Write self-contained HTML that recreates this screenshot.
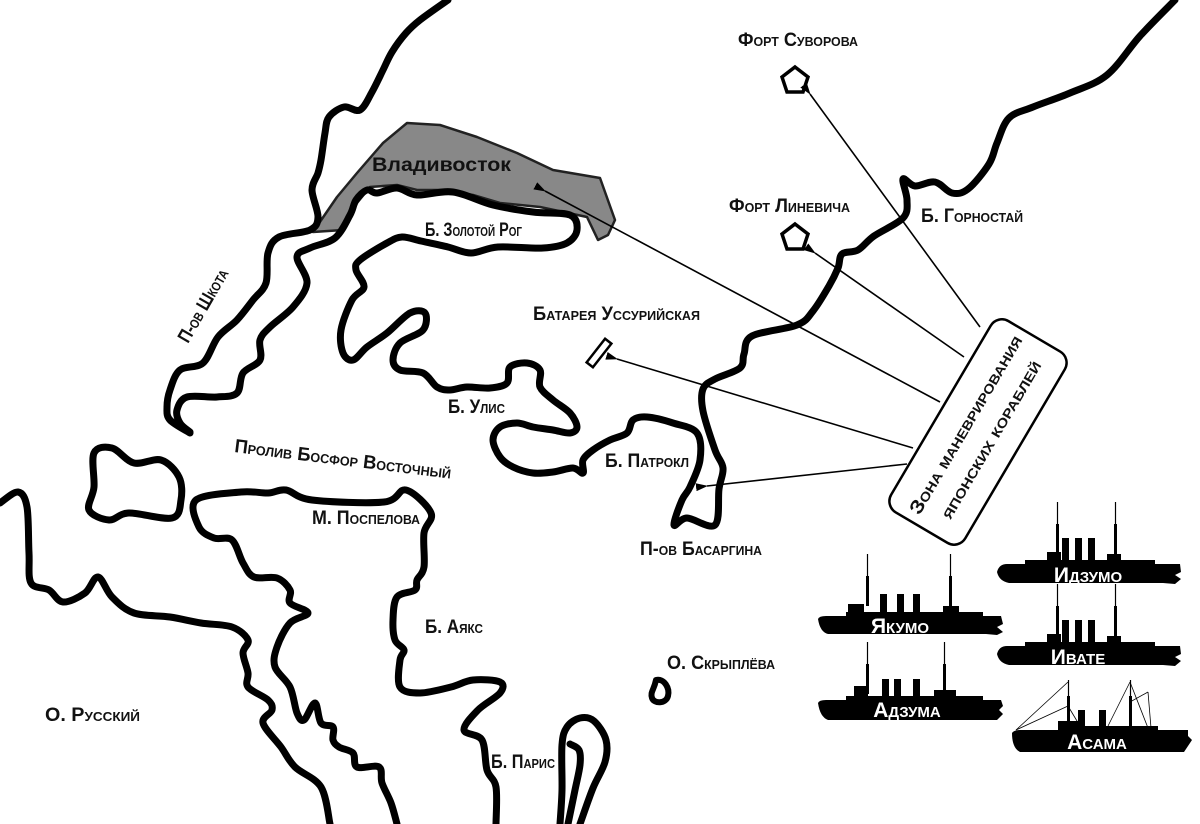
<!DOCTYPE html>
<html><head><meta charset="utf-8"><style>
html,body{margin:0;padding:0;background:#fff;}
svg{display:block;}
.t{font-family:"Liberation Sans","Noto Sans CJK SC",sans-serif;font-variant:small-caps;font-weight:bold;fill:#111;font-size:19px;}
.c{fill:none;stroke:#000;stroke-width:7;stroke-linejoin:round;stroke-linecap:round;}
.a{stroke:#000;stroke-width:1.6;fill:none;}
.sw{font-family:"Liberation Sans",sans-serif;font-variant:small-caps;font-weight:bold;fill:#fff;font-size:21px;}
</style></head><body>
<svg width="1200" height="824" viewBox="0 0 1200 824" xmlns="http://www.w3.org/2000/svg">
<defs>
<marker id="ah" markerWidth="12" markerHeight="8" refX="1" refY="4" orient="auto" markerUnits="userSpaceOnUse">
<path d="M12,0 L0,4 L12,8 Z" fill="#000"/>
</marker>
</defs>

<path d="M313,232 L337,197 L357,173 L383,143 L407,123 L440,125 L477,137 L517,153 L553,170 L600,178 L615,220 L608,235 L598,240 L587,217 L540,207 L500,203 L473,195 L443,190 L417,190 L397,185 L370,187 L357,203 L343,230 Z" fill="#888" stroke="#222" stroke-width="2.5" stroke-linejoin="round"/>

<path class="c" d="M448,0 L420,20 L406,33 L392,52 L383,70 L372,92 L360,110 L344,107 L329,117 L325,133 L321,160 L318,173 L312,190 L318,217 L310,230 L279,237 L268,253 L266,283 L253,300 L237,320 L218,337 L203,363 L180,370 L170,390 L167,407 L170,420 L190,433"/>

<path class="c" d="M190,432 L180,423 L177,410 L187,397 L217,397 L237,393 L243,373 L260,360 L260,340 L270,327 L293,307 L307,283 L297,257 L310,248 L335,238 L350,215 L356,200 L367,190 L377,193 L397,188 L417,195 L453,192 L493,205 L533,212 L570,215 L577,230 L567,243 L543,248 L498,247 L471,253 L448,247 L421,241 L402,237 L387,243 L360,260 L356,270 L364,287 L352,300 L341,330 L343,353 L353,360 L367,347 L387,333 L410,313 L425,313 L423,330 L400,343 L393,360 L400,370 L423,373 L437,387 L450,390 L467,387 L490,388 L507,383 L510,367 L527,363 L540,370 L540,387 L553,400 L570,413 L577,427 L570,433 L553,430 L533,427 L517,423 L500,427 L493,440 L500,457 L513,467 L533,473 L553,472 L573,468 L583,473 L583,460 L593,450 L610,440 L627,433 L633,420 L647,417 L673,423 L697,433 L700,460 L690,487 L682,500 L674,525 L687,518 L715,525 L719,489 L723,468 L715,450 L703,411 L703,389 L715,379 L740,368 L744,354 L752,336 L797,325 L813,311 L829,286 L838,268 L842,254 L858,250 L874,236 L903,218 L907,200 L903,179 L915,186 L935,182 L952,193 L968,189 L989,164 L997,143 L1009,118 L1033,107 L1070,93 L1107,75 L1140,36 L1175,0"/>

<path class="c" d="M94,453 L112,448 L134,463 L161,460 L179,477 L181,500 L172,518 L129,513 L109,520 L89,510 L94,487 Z"/>

<path class="c" d="M0,503 L18,492 L27,507 L29,553 L31,583 L49,590 L63,602 L85,593 L98,577 L112,597 L134,613 L170,617 L201,623 L232,627 L248,640 L243,653 L248,673 L248,687 L268,700 L272,710 L263,723 L281,747 L295,767 L321,787 L330,824"/>

<path class="c" d="M397,824 L391,803 L382,783 L379,767 L357,767 L353,753 L339,747 L333,740 L333,727 L321,723 L315,703 L304,720 L297,713 L290,687 L275,667 L277,647 L290,623 L308,613 L290,603 L290,590 L277,578 L254,577 L243,563 L232,540 L214,538 L199,527 L196,500 L241,492 L268,493 L286,490 L312,500 L384,502 L406,490 L431,513 L424,533 L424,567 L417,580 L415,590 L397,597 L393,620 L395,640 L404,650 L400,660 L400,687 L420,693 L451,687 L473,680 L500,682 L500,693 L478,710 L464,730 L482,740 L487,770 L496,787 L496,824"/>

<path class="c" d="M560,824 L562,790 L562,745 L567,727 L580,718 L594,721 L606,740 L605,762 L593,788 L580,824"/>
<path class="c" d="M568,824 L575,790 L580,765 L579,750 L570,744"/>

<path d="M656,680 C664,678 670,688 668,696 C666,704 654,704 652,698 C650,692 654,690 656,680 Z" fill="none" stroke="#000" stroke-width="6" stroke-linejoin="round"/>

<polygon points="795,67 808,77 803,92 787,92 782,77" fill="#fff" stroke="#000" stroke-width="3.5"/>
<polygon points="795,224 808,234 803,249 787,249 782,234" fill="#fff" stroke="#000" stroke-width="3.5"/>
<rect x="584" y="349" width="30" height="8" fill="#fff" stroke="#000" stroke-width="2.5" transform="rotate(-52 599 353)"/>

<line class="a" x1="980" y1="327" x2="810" y2="94" marker-end="url(#ah)"/>
<line class="a" x1="964" y1="357" x2="815" y2="253" marker-end="url(#ah)"/>
<line class="a" x1="940" y1="402" x2="545" y2="191" marker-end="url(#ah)"/>
<line class="a" x1="913" y1="448" x2="617" y2="359" marker-end="url(#ah)"/>
<line class="a" x1="907" y1="464" x2="707" y2="486" marker-end="url(#ah)"/>

<g transform="translate(978,432) rotate(-59.5)">
<rect x="-111" y="-43" width="222" height="86" rx="13" fill="#fff" stroke="#000" stroke-width="2.5"/>
<text class="t" x="0" y="-8" text-anchor="middle" font-size="26" textLength="204" lengthAdjust="spacingAndGlyphs">Зона маневрирования</text>
<text class="t" x="0" y="21" text-anchor="middle" font-size="26" textLength="180" lengthAdjust="spacingAndGlyphs">японских кораблей</text>
</g>

<text class="t" x="372" y="171" font-size="24" fill="#222" style="font-variant:normal" textLength="139" lengthAdjust="spacingAndGlyphs">Владивосток</text>
<text class="t" x="425" y="236" textLength="97" lengthAdjust="spacingAndGlyphs">Б. Золотой Рог</text>
<text class="t" x="738" y="46" textLength="120" lengthAdjust="spacingAndGlyphs">Форт Суворова</text>
<text class="t" x="729" y="212" textLength="121" lengthAdjust="spacingAndGlyphs">Форт Линевича</text>
<text class="t" x="921" y="222" textLength="102" lengthAdjust="spacingAndGlyphs">Б. Горностай</text>
<text class="t" x="533" y="320" textLength="167" lengthAdjust="spacingAndGlyphs">Батарея Уссурийская</text>
<text class="t" x="448" y="413" textLength="57" lengthAdjust="spacingAndGlyphs">Б. Улис</text>
<text class="t" x="605" y="467" textLength="84" lengthAdjust="spacingAndGlyphs">Б. Патрокл</text>
<text class="t" x="640" y="555" textLength="122" lengthAdjust="spacingAndGlyphs">П-ов Басаргина</text>
<text class="t" x="312" y="524" textLength="108" lengthAdjust="spacingAndGlyphs">М. Поспелова</text>
<text class="t" x="425" y="633" textLength="58" lengthAdjust="spacingAndGlyphs">Б. Аякс</text>
<text class="t" x="45" y="721" textLength="95" lengthAdjust="spacingAndGlyphs">О. Русский</text>
<text class="t" x="491" y="768" textLength="64" lengthAdjust="spacingAndGlyphs">Б. Парис</text>
<text class="t" x="667" y="669" textLength="108" lengthAdjust="spacingAndGlyphs">О. Скрыплёва</text>
<text class="t" transform="translate(188,344) rotate(-60)" textLength="82" lengthAdjust="spacingAndGlyphs">П-ов Шкота</text>
<text class="t" transform="translate(234,452) rotate(7)" textLength="218" lengthAdjust="spacingAndGlyphs">Пролив Босфор Восточный</text>

<g transform="translate(818,616)" fill="#000">
<path d="M0,3 Q1,0 8,0 L28,0 L28,-4 L165,-4 L165,0 L183,0 L185,8 L179,11 L185,16 L179,19 L168,18 L10,18 Q2,16 0,3 Z"/>
<rect x="30" y="-12" width="16" height="9"/><rect x="125" y="-10" width="16" height="8"/>
<rect x="62" y="-22" width="7" height="20"/><rect x="79" y="-22" width="7" height="20"/><rect x="95" y="-22" width="7" height="20"/>
<rect x="48" y="-40" width="3" height="30"/><rect x="131" y="-40" width="3" height="30"/>
<line x1="49.5" y1="-62" x2="49.5" y2="-40" stroke="#000" stroke-width="1.2"/><line x1="132.5" y1="-62" x2="132.5" y2="-40" stroke="#000" stroke-width="1.2"/>
<text class="sw" x="82" y="17" text-anchor="middle">Якумо</text>
</g>
<g transform="translate(818,700)" fill="#000">
<path d="M0,3 Q1,0 8,0 L28,0 L28,-4 L165,-4 L165,0 L183,0 L185,6 L181,10 L185,14 L179,20 L168,20 L10,20 Q2,17 0,3 Z"/>
<rect x="36" y="-14" width="14" height="11"/><rect x="116" y="-10" width="22" height="8"/>
<rect x="64" y="-21" width="7" height="19"/><rect x="76" y="-21" width="7" height="19"/><rect x="95" y="-21" width="7" height="19"/>
<rect x="48" y="-36" width="3" height="30"/><rect x="125" y="-36" width="3" height="30"/>
<line x1="49.5" y1="-58" x2="49.5" y2="-36" stroke="#000" stroke-width="1.2"/><line x1="126.5" y1="-58" x2="126.5" y2="-36" stroke="#000" stroke-width="1.2"/>
<text class="sw" x="89" y="17" text-anchor="middle">Адзума</text>
</g>
<g transform="translate(995,564)" fill="#000">
<path d="M2,8 Q4,0 12,0 L30,0 L30,-4 L160,-4 L160,0 L185,0 L186,8 L180,11 L186,15 L180,20 L168,19 L14,19 Q4,17 2,8 Z"/>
<rect x="52" y="-12" width="14" height="9"/><rect x="112" y="-10" width="14" height="8"/>
<rect x="67" y="-26" width="7" height="24"/><rect x="80" y="-26" width="7" height="24"/><rect x="93" y="-26" width="7" height="24"/>
<rect x="61" y="-40" width="3" height="30"/><rect x="119" y="-40" width="3" height="30"/>
<line x1="62.5" y1="-62" x2="62.5" y2="-40" stroke="#000" stroke-width="1.2"/><line x1="120.5" y1="-62" x2="120.5" y2="-40" stroke="#000" stroke-width="1.2"/>
<text class="sw" x="93" y="18" text-anchor="middle">Идзумо</text>
</g>
<g transform="translate(995,646)" fill="#000">
<path d="M2,8 Q4,0 12,0 L30,0 L30,-4 L160,-4 L160,0 L185,0 L186,8 L180,11 L186,15 L180,20 L168,19 L14,19 Q4,17 2,8 Z"/>
<rect x="52" y="-12" width="14" height="9"/><rect x="112" y="-10" width="14" height="8"/>
<rect x="67" y="-26" width="7" height="24"/><rect x="80" y="-26" width="7" height="24"/><rect x="93" y="-26" width="7" height="24"/>
<rect x="61" y="-40" width="3" height="30"/><rect x="119" y="-40" width="3" height="30"/>
<line x1="62.5" y1="-62" x2="62.5" y2="-40" stroke="#000" stroke-width="1.2"/><line x1="120.5" y1="-62" x2="120.5" y2="-40" stroke="#000" stroke-width="1.2"/>
<text class="sw" x="83" y="18" text-anchor="middle">Ивате</text>
</g>
<g transform="translate(1008,730)" fill="#000">
<path d="M4,3 Q6,0 12,0 L50,0 L50,-9 L70,-9 L70,-4 L150,-4 L150,0 L180,0 L180,6 L184,10 L180,16 L176,22 L12,22 Q4,18 4,3 Z"/>
<rect x="70" y="-20" width="7" height="18"/><rect x="91" y="-20" width="7" height="18"/>
<rect x="59" y="-34" width="3" height="30"/><rect x="121" y="-34" width="3" height="30"/>
<line x1="60.5" y1="-50" x2="60.5" y2="-34" stroke="#000" stroke-width="1.2"/><line x1="122.5" y1="-50" x2="122.5" y2="-34" stroke="#000" stroke-width="1.2"/>
<g stroke="#000" stroke-width="0.8" fill="none">
<line x1="8" y1="0" x2="60" y2="-48"/><line x1="8" y1="0" x2="60" y2="-24"/><line x1="60" y1="-24" x2="72" y2="-4"/>
<line x1="100" y1="-4" x2="122" y2="-48"/><line x1="122" y1="-48" x2="140" y2="-2"/><line x1="122" y1="-28" x2="140" y2="-38"/><line x1="140" y1="-38" x2="143" y2="-2"/>
</g>
<text class="sw" x="89" y="19" text-anchor="middle">Асама</text>
</g>
</svg>
<script>
(function(){
var ps=document.querySelectorAll('path.c');
for(var i=0;i<ps.length;i++){
 var d=ps[i].getAttribute('d');var closed=/Z\s*$/.test(d);
 var nums=d.replace(/[MLZ]/g,' ').trim().split(/[\s,]+/).map(Number);
 var p=[];for(var k=0;k+1<nums.length;k+=2)p.push([nums[k],nums[k+1]]);
 if(p.length<3)continue;
 var n=p.length,s='M'+p[0][0]+','+p[0][1];
 var get=function(j){if(closed){return p[(j+n)%n];}return p[Math.max(0,Math.min(n-1,j))];};
 var last=closed?n:n-1;
 for(var j=0;j<last;j++){
  var p0=get(j-1),p1=get(j),p2=get(j+1),p3=get(j+2);
  var c1=[p1[0]+(p2[0]-p0[0])/6,p1[1]+(p2[1]-p0[1])/6];
  var c2=[p2[0]-(p3[0]-p1[0])/6,p2[1]-(p3[1]-p1[1])/6];
  s+=' C'+c1[0].toFixed(1)+','+c1[1].toFixed(1)+' '+c2[0].toFixed(1)+','+c2[1].toFixed(1)+' '+p2[0]+','+p2[1];
 }
 if(closed)s+=' Z';
 ps[i].setAttribute('d',s);
}
})();
</script>
</body></html>
